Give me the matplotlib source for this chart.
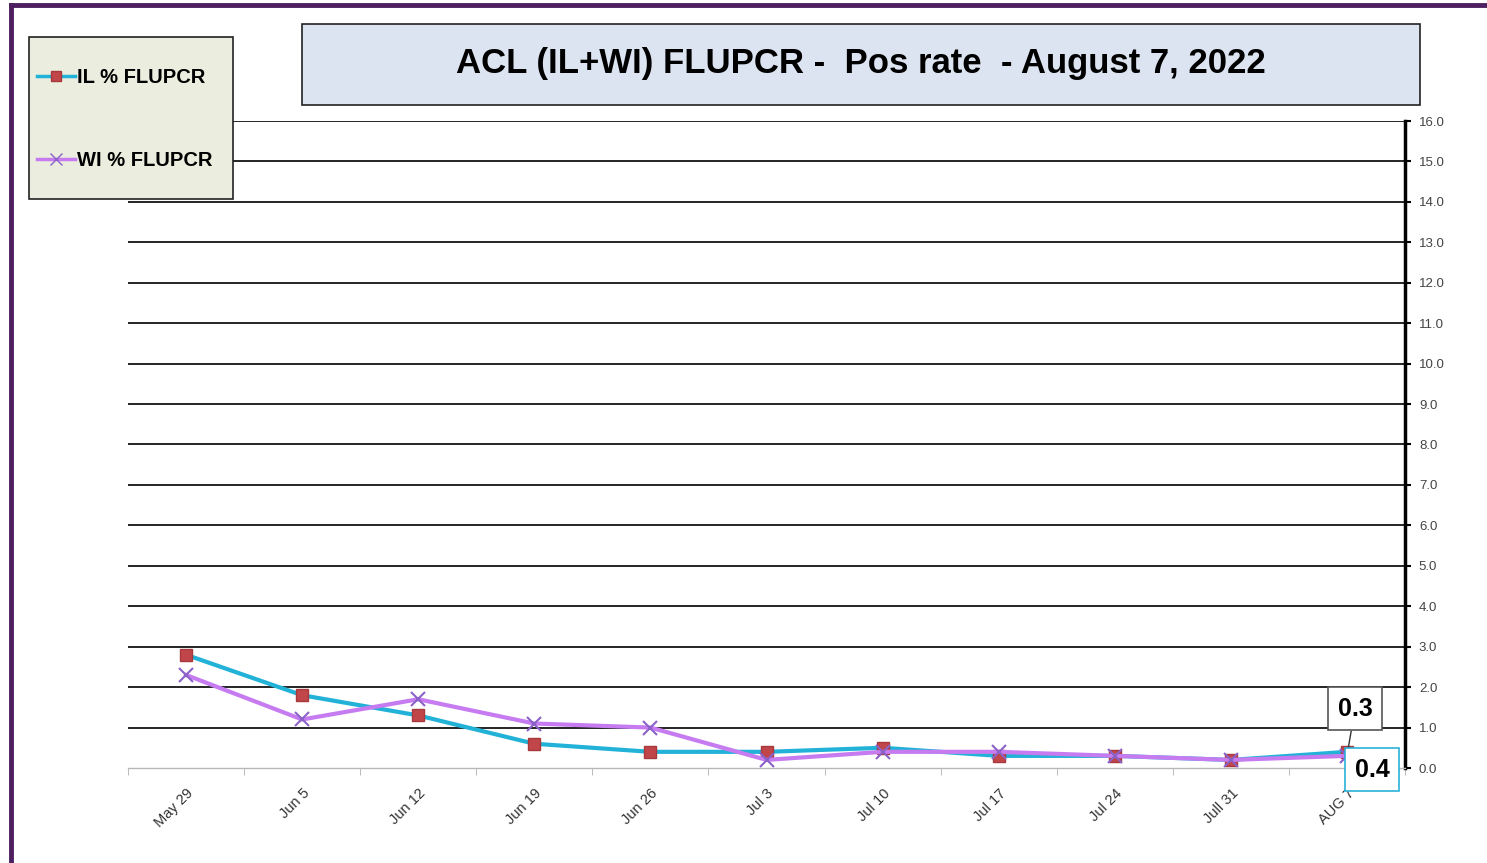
import numpy as np
import matplotlib
matplotlib.use('Agg')
import matplotlib.pyplot as plt
import matplotlib.lines as mlines
from matplotlib.patches import Rectangle

plt.rcParams['font.family'] = ['Liberation Sans', 'DejaVu Sans']

# data
weeks = ['May 29', 'Jun 5', 'Jun 12', 'Jun 19', 'Jun 26', 'Jul 3',
         'Jul 10', 'Jul 17', 'Jul 24', 'Jull 31', 'AUG 7']
il_rate = [2.8, 1.8, 1.3, 0.6, 0.4, 0.4, 0.5, 0.3, 0.3, 0.2, 0.4]
wi_rate = [2.3, 1.2, 1.7, 1.1, 1.0, 0.2, 0.4, 0.4, 0.3, 0.2, 0.3]
y_ticks = np.arange(0, 17, 1)

W, H = 1487, 863
fig = plt.figure(figsize=(W / 100, H / 100), dpi=100)
fig.patch.set_facecolor('white')

def fx(px):
    return px / W

def fy(py):
    return 1 - py / H

ax = fig.add_axes([fx(128), fy(768), fx(1405) - fx(128), fy(121) - fy(768)])
x = np.arange(len(weeks))

ax.plot(x, il_rate, color='#22b2d8', lw=3, marker='s', markersize=8,
        markerfacecolor='#c0464a', markeredgecolor='#a8383c', zorder=4)
ax.plot(x, wi_rate, color='#c67cf0', lw=3, marker='x', markersize=10,
        markeredgecolor='#8a62c8', markeredgewidth=1.5, zorder=5)

ax.set_xlim(-0.5, len(weeks) - 0.5)
ax.set_ylim(0, 16)

# right value axis
ax.yaxis.tick_right()
ax.set_yticks(y_ticks)
ax.set_yticklabels([f'{v:.1f}' for v in y_ticks], fontsize=9.5, color='#444444')
ax.tick_params(axis='y', direction='out', length=4, width=1.5, color='black', pad=6)
ax.grid(axis='y', color='black', lw=1.2)
ax.get_ygridlines()[0].set_visible(False)
ax.set_axisbelow(True)

# category axis
ax.set_xticks(x)
ax.set_xticklabels(weeks, rotation=45, ha='right', va='top',
                   rotation_mode='anchor', fontsize=10.5, color='#333333')
ax.tick_params(axis='x', length=0, pad=13)
ax.set_xticks(np.arange(-0.5, len(weeks)), minor=True)
ax.tick_params(axis='x', which='minor', length=5, color='#b0b0b0', direction='out')

for side in ['left', 'top']:
    ax.spines[side].set_visible(False)
ax.spines['right'].set_color('black')
ax.spines['right'].set_linewidth(2.5)
ax.spines['bottom'].set_color('#b8b8b8')
ax.spines['bottom'].set_linewidth(1)

# data labels for the last week
ax.annotate(f'{wi_rate[-1]:.1f}', xy=(x[-1], wi_rate[-1]), xytext=(8, 47),
            textcoords='offset pixels', ha='center', va='center',
            fontsize=18, fontweight='bold',
            bbox=dict(boxstyle='square,pad=0.38', fc='white', ec='#555555', lw=1.2),
            arrowprops=dict(arrowstyle='-', color='#333333', lw=1,
                            shrinkA=0, shrinkB=0), zorder=6)
ax.annotate(f'{il_rate[-1]:.1f}', xy=(x[-1], il_rate[-1]), xytext=(25, -18),
            textcoords='offset pixels', ha='center', va='center',
            fontsize=18, fontweight='bold',
            bbox=dict(boxstyle='square,pad=0.38', fc='white', ec='#2cb0d8', lw=1.2),
            zorder=6)

# title box
fig.patches.append(Rectangle((fx(302), fy(105)), fx(1420) - fx(302), fy(24) - fy(105),
                             transform=fig.transFigure, fc='#dde4f1', ec='#222222',
                             lw=1.2, zorder=1))
fig.text(fx(861), fy(64), 'ACL (IL+WI) FLUPCR -  Pos rate  - August 7, 2022',
         ha='center', va='center', fontsize=25, fontweight='bold', zorder=2)

# legend box
fig.patches.append(Rectangle((fx(29), fy(199)), fx(233) - fx(29), fy(37) - fy(199),
                             transform=fig.transFigure, fc='#ebeede', ec='#222222',
                             lw=1.2, zorder=3))
il_handle = mlines.Line2D([], [], color='#22b2d8', lw=2.5, marker='s', markersize=7,
                          markerfacecolor='#c0464a', markeredgecolor='#a8383c',
                          label='IL % FLUPCR')
wi_handle = mlines.Line2D([], [], color='#c67cf0', lw=2.5, marker='x', markersize=8,
                          markeredgecolor='#8a62c8', label='WI % FLUPCR')
leg = fig.legend(handles=[il_handle, wi_handle], loc='upper left',
                 bbox_to_anchor=(fx(37), fy(68)), frameon=False,
                 prop=dict(weight='bold', size=14.5), handlelength=1.9,
                 handletextpad=0.1, labelspacing=3.2, borderpad=0, borderaxespad=0)
leg.set_zorder(4)

# outer purple frame
fig.add_artist(mlines.Line2D([fx(11), fx(11)], [0, fy(5)], transform=fig.transFigure,
                             color='#4e1f5f', lw=3.5))
fig.add_artist(mlines.Line2D([fx(11), 1], [fy(5), fy(5)], transform=fig.transFigure,
                             color='#4e1f5f', lw=3.5))

fig.savefig('out.png', dpi=100)
